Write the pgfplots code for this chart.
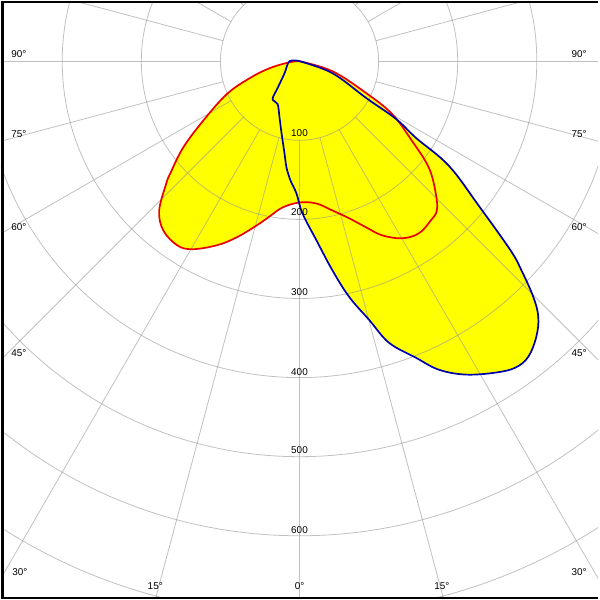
\documentclass[border=0pt]{standalone}
\usepackage{pgfplots}
\pgfplotsset{compat=1.18}
\usepackage{fontspec}
\setmainfont{Liberation Sans}
\definecolor{gridc}{RGB}{150,150,150}
\definecolor{curveblue}{RGB}{0,0,170}
\definecolor{curvered}{RGB}{235,0,0}
\definecolor{fillyellow}{RGB}{255,255,0}
\begin{document}
\begin{tikzpicture}
\begin{axis}[
  scale only axis, width=600bp, height=600bp,
  xmin=-377.4, xmax=377.4, ymin=-679.3, ymax=75.5,
  axis lines=none, clip=true,
  every node/.style={font=\fontsize{10.8}{12}\selectfont},
]
% fills
\addplot[fill=fillyellow, draw=none, smooth, tension=0.6] coordinates {
(0,0) (41.5,-12.6) (84.3,-40.3) (117.0,-66.7) (142.1,-100.6) (163.5,-134.6)
(172.3,-167.3) (173.6,-188.7) (166.0,-201.3) (150.9,-217.6) (129.6,-223.9)
(104.4,-220.1) (84.3,-210.1) (62.9,-198.7) (41.5,-188.7) (21.4,-179.9)
(0,-178.6) (-21.4,-184.9) (-37.7,-196.2) (-54.1,-207.6) (-79.2,-222.6)
(-104.4,-232.7) (-135.8,-237.7) (-154.7,-232.7) (-172.3,-213.8) (-177.4,-188.7)
(-168.5,-154.7) (-163.5,-142.1) (-147.2,-109.4) (-122.0,-75.5) (-91.8,-41.5)
(-62.9,-21.4) (-37.7,-8.8) (-12.6,-1.3) (0,0)} -- cycle;
\addplot[fill=fillyellow, draw=none, smooth, tension=0.6] coordinates {
(0,0) (-12.6,0) (-18.9,-15.1) (-27.7,-34.0) (-34.0,-47.8) (-27.7,-54.1)
(-25.2,-71.7) (-22.6,-91.8) (-18.9,-117.0) (-16.4,-134.6) (-11.3,-151.0)
(-3.8,-167.3) (3.8,-192.5) (21.4,-226.4) (41.5,-264.2) (62.9,-298.1)
(88.1,-327.1) (113.2,-356.0) (147.2,-374.9) (176.1,-390.0) (210.1,-396.2)
(247.8,-393.7) (273.0,-387.4) (289.3,-373.6) (299.4,-348.4) (301.9,-323.3)
(295.6,-298.1) (280.5,-264.2) (266.7,-239.0) (226.4,-182.4) (188.7,-132.1)
(147.2,-96.9) (122.0,-73.0) (84.3,-46.5) (41.5,-15.1) (0,0)} -- cycle;
% grid
\pgfplotsinvokeforeach{100,200,...,800}{
  \draw[gridc, opacity=0.6, line width=0.8bp] (axis cs:0,0) circle [radius=#1];
}
\pgfplotsinvokeforeach{0,15,...,345}{
  \draw[gridc, opacity=0.6, line width=0.8bp]
    (axis cs:{100*cos(#1)},{100*sin(#1)}) -- (axis cs:{1000*cos(#1)},{1000*sin(#1)});
}
% curves
\addplot[curvered, line width=1.7bp, smooth, tension=0.6] coordinates {
(0,0) (41.5,-12.6) (84.3,-40.3) (117.0,-66.7) (142.1,-100.6) (163.5,-134.6)
(172.3,-167.3) (173.6,-188.7) (166.0,-201.3) (150.9,-217.6) (129.6,-223.9)
(104.4,-220.1) (84.3,-210.1) (62.9,-198.7) (41.5,-188.7) (21.4,-179.9)
(0,-178.6) (-21.4,-184.9) (-37.7,-196.2) (-54.1,-207.6) (-79.2,-222.6)
(-104.4,-232.7) (-135.8,-237.7) (-154.7,-232.7) (-172.3,-213.8) (-177.4,-188.7)
(-168.5,-154.7) (-163.5,-142.1) (-147.2,-109.4) (-122.0,-75.5) (-91.8,-41.5)
(-62.9,-21.4) (-37.7,-8.8) (-12.6,-1.3) (0,0)} -- cycle;
\addplot[curveblue, line width=1.7bp, smooth, tension=0.6] coordinates {
(0,0) (-12.6,0) (-18.9,-15.1) (-27.7,-34.0) (-34.0,-47.8) (-27.7,-54.1)
(-25.2,-71.7) (-22.6,-91.8) (-18.9,-117.0) (-16.4,-134.6) (-11.3,-151.0)
(-3.8,-167.3) (3.8,-192.5) (21.4,-226.4) (41.5,-264.2) (62.9,-298.1)
(88.1,-327.1) (113.2,-356.0) (147.2,-374.9) (176.1,-390.0) (210.1,-396.2)
(247.8,-393.7) (273.0,-387.4) (289.3,-373.6) (299.4,-348.4) (301.9,-323.3)
(295.6,-298.1) (280.5,-264.2) (266.7,-239.0) (226.4,-182.4) (188.7,-132.1)
(147.2,-96.9) (122.0,-73.0) (84.3,-46.5) (41.5,-15.1) (0,0)} -- cycle;
% radial labels
\node at (axis cs:0,-90.6) {100};
\node at (axis cs:0,-191.2) {200};
\node at (axis cs:0,-291.8) {300};
\node at (axis cs:0,-392.5) {400};
\node at (axis cs:0,-491.8) {500};
\node at (axis cs:0,-592.5) {600};
% angle labels
\node at (axis cs:-354.7,8.8) {90°};
\node at (axis cs:353.5,8.8) {90°};
\node at (axis cs:-354.7,-91.8) {75°};
\node at (axis cs:353.5,-91.8) {75°};
\node at (axis cs:-354.7,-210.1) {60°};
\node at (axis cs:353.5,-210.1) {60°};
\node at (axis cs:-354.7,-368.6) {45°};
\node at (axis cs:353.5,-368.6) {45°};
\node at (axis cs:-353.5,-645.3) {30°};
\node at (axis cs:353.5,-645.3) {30°};
\node at (axis cs:-182.4,-664.2) {15°};
\node at (axis cs:179.9,-664.2) {15°};
\node at (axis cs:0,-664.2) {0°};
\end{axis}
\draw[black, line width=3bp] ([xshift=1.5bp]current axis.south west) -- ([xshift=1.5bp]current axis.north west);
\draw[black, line width=2bp] ([yshift=-1bp]current axis.north west) -- ([yshift=-1bp]current axis.north east);
\draw[black, line width=2bp] ([yshift=1bp]current axis.south west) -- ([yshift=1bp]current axis.south east);
\end{tikzpicture}
\end{document}
